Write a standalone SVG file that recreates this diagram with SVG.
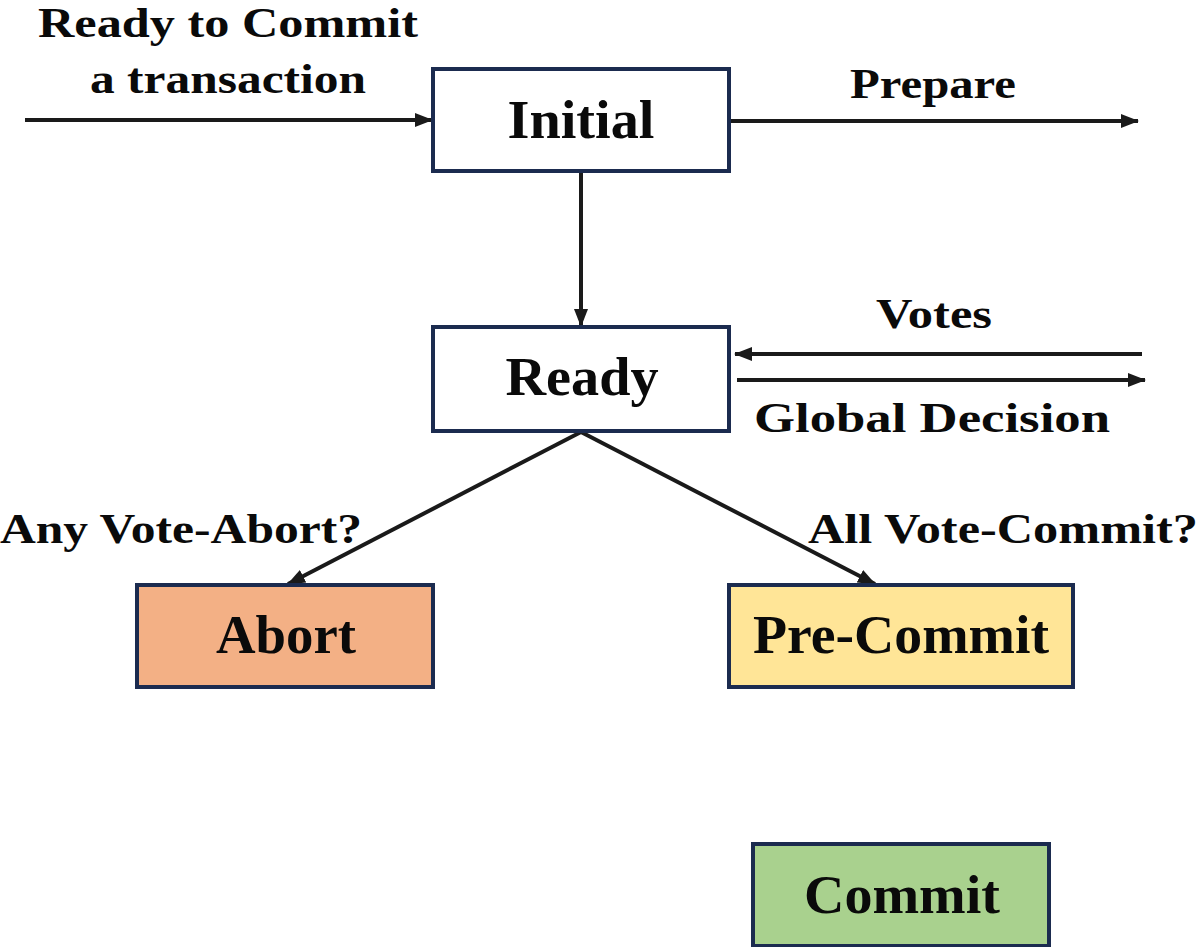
<svg xmlns="http://www.w3.org/2000/svg" width="1204" height="947" viewBox="0 0 1204 947">
<style>
.box{stroke:#1b2b4f;stroke-width:4}
.nt{font-family:"Liberation Serif","Times New Roman",serif;font-weight:bold;font-size:54px;fill:#0a0a0a;text-anchor:middle}
.lt{font-family:"Liberation Serif","Times New Roman",serif;font-weight:bold;font-size:43px;fill:#0a0a0a;text-anchor:middle}
.c{stroke:#1a1a1a;stroke-width:4;fill:none}
</style>
<defs>
<marker id="ah" markerUnits="userSpaceOnUse" markerWidth="20" markerHeight="18" refX="17" refY="9" orient="auto">
<path d="M0,2 L18,9 L0,16 Z" fill="#1a1a1a"/>
</marker>
</defs>
<g id="connectors">
<line class="c" x1="25" y1="120" x2="432" y2="120" marker-end="url(#ah)"/>
<line class="c" x1="731" y1="121" x2="1138" y2="121" marker-end="url(#ah)"/>
<line class="c" x1="581" y1="172" x2="581" y2="326" marker-end="url(#ah)"/>
<line class="c" x1="1142" y1="354" x2="735" y2="354" marker-end="url(#ah)"/>
<line class="c" x1="737" y1="380" x2="1145" y2="380" marker-end="url(#ah)"/>
<line class="c" x1="581" y1="432" x2="288" y2="584" marker-end="url(#ah)"/>
<line class="c" x1="581" y1="432" x2="875" y2="584" marker-end="url(#ah)"/>
</g>
<g id="labels">
<text class="lt" x="228" y="37" textLength="380" lengthAdjust="spacingAndGlyphs">Ready to Commit</text>
<text class="lt" x="228" y="93" textLength="276" lengthAdjust="spacingAndGlyphs">a transaction</text>
<text class="lt" x="933" y="98" textLength="166" lengthAdjust="spacingAndGlyphs">Prepare</text>
<text class="lt" x="934" y="328" textLength="116" lengthAdjust="spacingAndGlyphs">Votes</text>
<text class="lt" x="932" y="432" textLength="356" lengthAdjust="spacingAndGlyphs">Global Decision</text>
<text class="lt" x="181" y="543" textLength="362" lengthAdjust="spacingAndGlyphs">Any Vote-Abort?</text>
<text class="lt" x="1003" y="543" textLength="390" lengthAdjust="spacingAndGlyphs">All Vote-Commit?</text>
</g>
<g id="node-initial">
<rect class="box" x="433" y="69" width="296" height="102" fill="#ffffff"/>
<text class="nt" x="581" y="138" textLength="147" lengthAdjust="spacingAndGlyphs">Initial</text>
</g>
<g id="node-ready">
<rect class="box" x="433" y="327" width="296" height="104" fill="#ffffff"/>
<text class="nt" x="582" y="395" textLength="153" lengthAdjust="spacingAndGlyphs">Ready</text>
</g>
<g id="node-abort">
<rect class="box" x="137" y="585" width="296" height="102" fill="#f3b085"/>
<text class="nt" x="286" y="653" textLength="140" lengthAdjust="spacingAndGlyphs">Abort</text>
</g>
<g id="node-precommit">
<rect class="box" x="729" y="585" width="344" height="102" fill="#ffe597"/>
<text class="nt" x="901" y="653" textLength="296" lengthAdjust="spacingAndGlyphs">Pre-Commit</text>
</g>
<g id="node-commit">
<rect class="box" x="753" y="844" width="296" height="102" fill="#a9d18e"/>
<text class="nt" x="902" y="913" textLength="196" lengthAdjust="spacingAndGlyphs">Commit</text>
</g>
</svg>
